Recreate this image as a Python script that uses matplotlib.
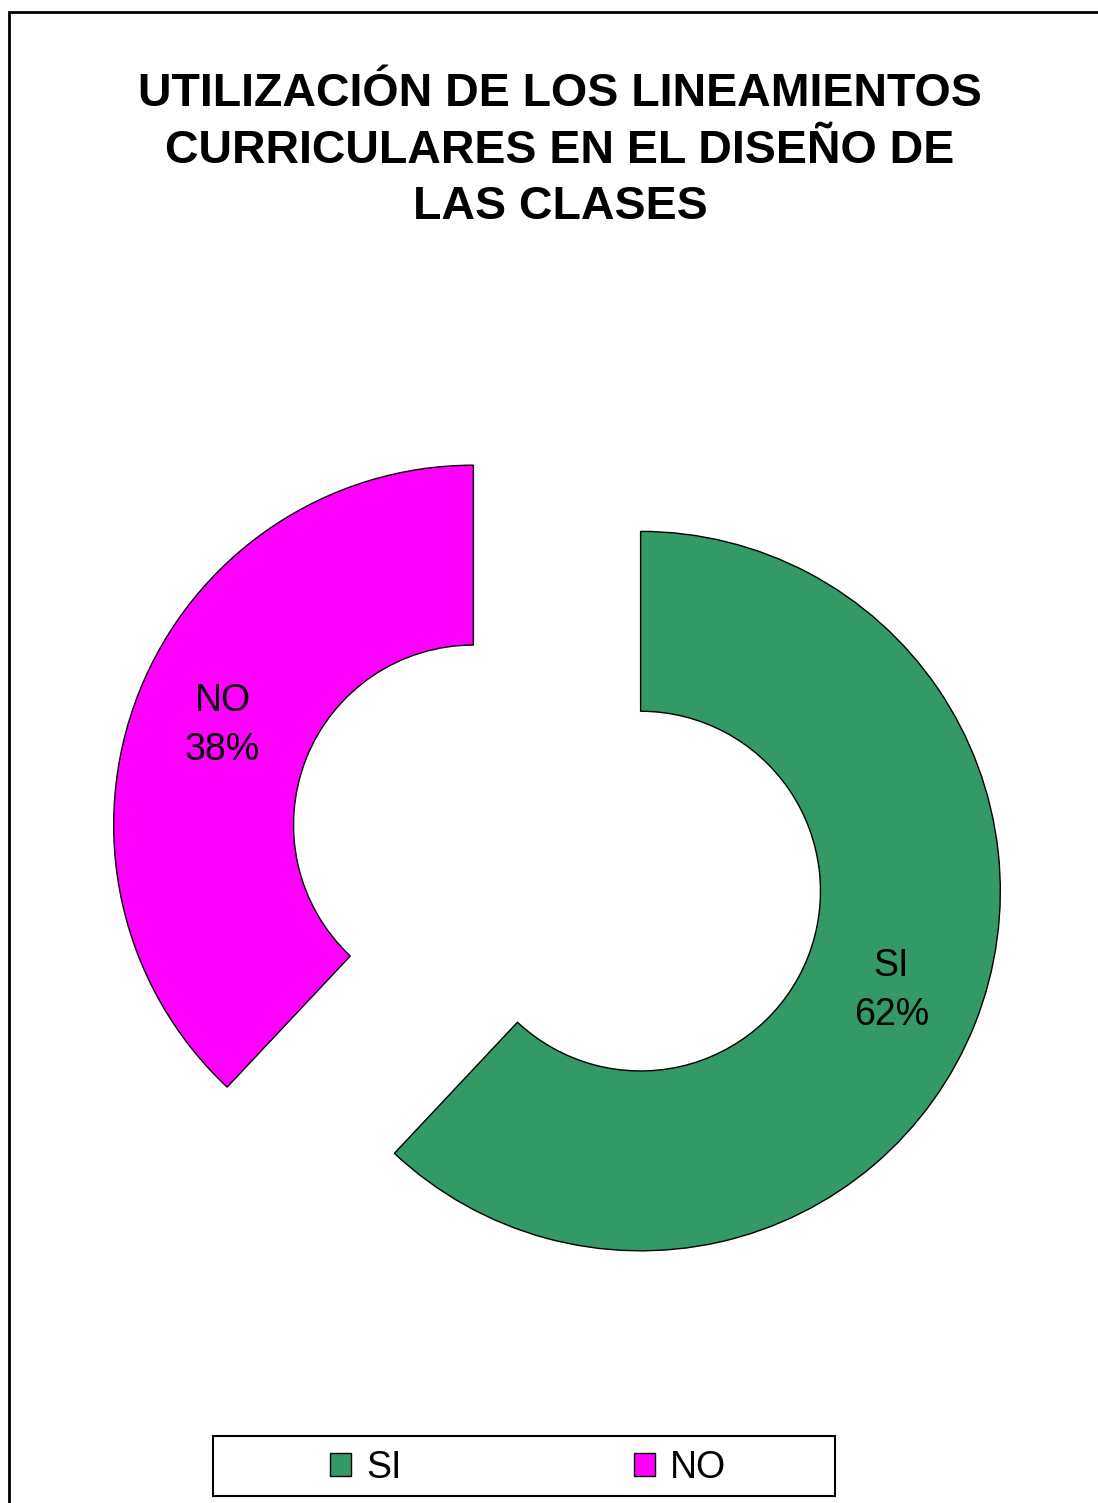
import numpy as np
import matplotlib
matplotlib.use('Agg')
import matplotlib.pyplot as plt
from matplotlib.patches import Patch, Rectangle

plt.rcParams['font.family'] = ['Liberation Sans', 'DejaVu Sans']

# Data
categories = ['SI', 'NO']
values = [62, 38]
colors = ['#339966', '#FF00FF']
title = 'UTILIZACIÓN DE LOS LINEAMIENTOS\nCURRICULARES EN EL DISEÑO DE\nLAS CLASES'

fig = plt.figure(figsize=(10.98, 15.03), dpi=100)

# outer frame (left and top edges visible, rest cropped)
fig.add_artist(Rectangle((9 / 1098, -0.1), 1.2, 1.1 - 12 / 1503, transform=fig.transFigure,
                         fill=False, edgecolor='black', linewidth=2))

# square axes, 1000 px wide, centred at (557, 858) px
ax = fig.add_axes([57 / 1098, 145 / 1503, 1000 / 1098, 1000 / 1503])
wedges, _ = ax.pie(values, colors=colors, startangle=90, counterclock=False,
                   explode=[0.25, 0.25], radius=1.0,
                   wedgeprops=dict(width=0.5, edgecolor='black', linewidth=1))
ax.set_xlim(-1.39, 1.39)
ax.set_ylim(-1.39, 1.39)
ax.axis('off')

for w, cat, v in zip(wedges, categories, values):
    ang = np.deg2rad((w.theta1 + w.theta2) / 2)
    cx, cy = w.center
    x = cx + 0.75 * w.r * np.cos(ang)
    y = cy + 0.75 * w.r * np.sin(ang)
    ax.text(x, y, f'{cat}\n{v}%', ha='center', va='center', fontsize=27, linespacing=1.45)

fig.text(0.51, 1 - 72 / 1503, title, ha='center', va='top', fontsize=33.5,
         fontweight='bold', linespacing=1.37)

# legend box
fig.add_artist(Rectangle((213 / 1098, 1 - 1496 / 1503), 622 / 1098, 60 / 1503,
                         transform=fig.transFigure, fill=False, edgecolor='black', linewidth=1.5))
handles = [Patch(facecolor=c, edgecolor='black', label=l) for c, l in zip(colors, categories)]
fig.legend(handles=handles, loc='center', bbox_to_anchor=(528 / 1098, 1 - 1468 / 1503),
           ncol=2, frameon=False, fontsize=27, handlelength=0.55, handleheight=0.55,
           handletextpad=0.4, columnspacing=6.2, borderpad=0.2)

fig.savefig('out.png', dpi=100)
